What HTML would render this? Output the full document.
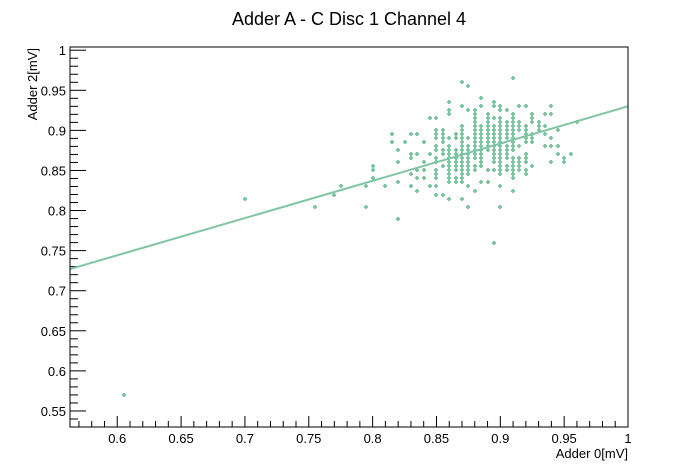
<!DOCTYPE html>
<html><head><meta charset="utf-8"><style>
body{margin:0;background:#fff;}
svg{display:block;font-family:"Liberation Sans",sans-serif;}
</style></head><body>
<svg id="chart" width="698" height="474" viewBox="0 0 698 474">
<rect width="698" height="474" fill="#fff"/>
<text x="349" y="25" font-size="18" text-anchor="middle">Adder A - C Disc 1 Channel 4</text>
<g id="plot"></g>
<rect x="70" y="47" width="558" height="380" fill="none" stroke="#000" stroke-width="1"/>
<text x="628" y="458" font-size="13" text-anchor="end">Adder 0[mV]</text>
<text transform="translate(37,48) rotate(-90)" font-size="13" text-anchor="end">Adder 2[mV]</text>
</svg>
<script>
const xTicks=[0.6,0.65,0.7,0.75,0.8,0.85,0.9,0.95,1];
const xTickLabels=["0.6","0.65","0.7","0.75","0.8","0.85","0.9","0.95","1"];
const yTicks=[0.55,0.6,0.65,0.7,0.75,0.8,0.85,0.9,0.95,1];
const yTickLabels=["0.55","0.6","0.65","0.7","0.75","0.8","0.85","0.9","0.95","1"];
const fitX=[0.563,1.0];
const fitY=[0.727,0.93];
const rowY=[0.965,0.96,0.955,0.94,0.935,0.93,0.925,0.92,0.915,0.91,0.905,0.9,0.895,0.89,0.885,0.88,0.875,0.87,0.865,0.86,0.855,0.85,0.845,0.84,0.835,0.83,0.825,0.82,0.815,0.805,0.79,0.76];
const rowX=[
[0.91],
[0.87],
[0.875],
[0.885],
[0.86,0.895],
[0.87,0.885,0.895,0.9,0.915,0.92,0.94],
[0.86,0.875,0.88,0.9,0.905],
[0.86,0.88,0.89,0.91,0.925,0.935,0.94],
[0.845,0.85,0.88,0.89,0.895,0.9,0.91,0.925],
[0.88,0.89,0.9,0.905,0.91,0.915,0.925,0.93,0.96],
[0.87,0.88,0.885,0.89,0.895,0.9,0.905,0.91,0.915,0.92,0.93,0.935],
[0.85,0.855,0.87,0.88,0.885,0.89,0.895,0.9,0.905,0.91,0.915,0.92,0.93,0.945],
[0.815,0.83,0.835,0.85,0.855,0.865,0.87,0.88,0.885,0.89,0.895,0.9,0.905,0.91,0.92,0.925,0.935],
[0.85,0.855,0.86,0.865,0.87,0.875,0.88,0.885,0.89,0.895,0.9,0.905,0.91,0.92,0.925,0.94],
[0.815,0.825,0.84,0.855,0.87,0.88,0.885,0.89,0.895,0.9,0.91,0.92,0.925],
[0.85,0.86,0.87,0.875,0.88,0.885,0.89,0.895,0.9,0.905,0.91,0.915,0.935,0.94,0.945],
[0.82,0.85,0.855,0.86,0.865,0.87,0.875,0.88,0.885,0.89,0.895,0.9,0.905,0.91],
[0.83,0.835,0.845,0.855,0.86,0.865,0.87,0.875,0.88,0.885,0.895,0.9,0.905,0.92,0.945,0.955],
[0.83,0.85,0.86,0.865,0.87,0.875,0.88,0.885,0.895,0.9,0.905,0.91,0.915,0.92,0.95],
[0.82,0.84,0.85,0.86,0.865,0.87,0.875,0.885,0.895,0.9,0.91,0.915,0.92,0.94,0.95],
[0.855,0.86,0.865,0.87,0.875,0.88,0.885,0.9,0.905,0.91,0.915,0.925,0.8],
[0.835,0.84,0.85,0.86,0.865,0.87,0.875,0.88,0.89,0.895,0.9,0.905,0.91,0.915,0.92,0.8],
[0.83,0.85,0.86,0.87,0.875,0.9,0.91,0.92],
[0.835,0.84,0.85,0.86,0.865,0.87,0.91,0.8],
[0.82,0.86,0.865,0.87,0.885,0.89],
[0.81,0.83,0.845,0.85,0.875,0.9,0.795,0.775],
[0.835,0.88,0.91],
[0.85,0.855,0.77],
[0.86,0.87,0.7],
[0.875,0.9,0.795,0.755],
[0.82],
[0.895]
];
const extraX=[0.605];
const extraY=[0.57];
const X0=0.563,X1=1.0,Y0=0.530,Y1=1.004,L=70,R=628,T=47,B=427;
function sx(v){return L+(v-X0)/(X1-X0)*(R-L);}
function sy(v){return B-(v-Y0)/(Y1-Y0)*(B-T);}
const NS="http://www.w3.org/2000/svg";
const g=document.getElementById('plot');
function mk(t,a){const e=document.createElementNS(NS,t);for(const k in a)e.setAttribute(k,a[k]);g.appendChild(e);return e;}
for(let v=0.57;v<=1.0001;v+=0.01){const maj=Math.abs(Math.round(v*20)-v*20)<1e-6;
 const e=mk('line',{x1:sx(v),x2:sx(v),y1:B,y2:B-(maj?11:6),stroke:'#000'});
 
 }
xTicks.forEach((v,i)=>{const e=mk('text',{x:sx(v),y:B+16,'font-size':13,'text-anchor':'middle'});e.textContent=xTickLabels[i];
 
 });
for(let v=0.54;v<=1.0001;v+=0.01){const maj=Math.abs(Math.round(v*20)-v*20)<1e-6;
 const e=mk('line',{x1:L,x2:L+(maj?16:8),y1:sy(v),y2:sy(v),stroke:'#000'});
 
 }
yTicks.forEach((v,i)=>{const e=mk('text',{x:L-4,y:sy(v)+5,'font-size':13,'text-anchor':'end'});e.textContent=yTickLabels[i];
 
 });
const fl=mk('line',{x1:sx(fitX[0]),y1:sy(fitY[0]),x2:sx(fitX[1]),y2:sy(fitY[1]),stroke:'#7fc5a2','stroke-width':2});


function pt(x,y){const cx=Math.round(sx(x)),cy=Math.round(sy(y));
 const e=mk('path',{d:`M${cx-2} ${cy-1}h1v-1h2v1h1v2h-1v1h-2v-1h-1z`,fill:'#7fc5a2'});
 
 }
rowY.forEach((y,i)=>rowX[i].forEach(x=>pt(x,y)));
extraX.forEach((x,i)=>pt(x,extraY[i]));
</script>
</body></html>
